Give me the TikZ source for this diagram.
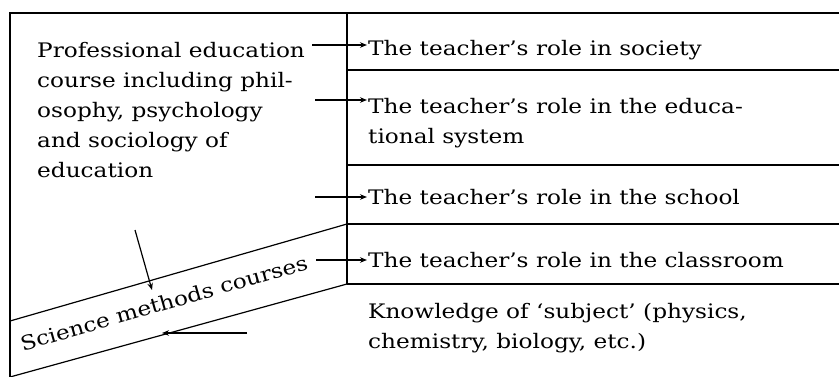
\documentclass[tikz,border=0pt]{standalone}
\usepackage{fontspec}
\setmainfont{DejaVu Serif}[FakeStretch=1.16]
\usetikzlibrary{arrows.meta}
\begin{document}
\begin{tikzpicture}[x=1pt,y=1pt,yscale=-1,
        rule/.style={line width=1.2pt},
        conn/.style={line width=1.2pt,-{Stealth[length=7pt,width=5.5pt]}},
        txt/.style={inner sep=0pt,align=left,font=\fontsize{20}{30}\selectfont}]
        \useasboundingbox (0,0) rectangle (839,377);
        %Straight Lines
        \draw[rule] (839,13) -- (10,13) -- (10,377);
        \draw[rule] (347,13) -- (347,284);
        \foreach \y in {70,165,224,284} \draw[rule] (347,\y) -- (839,\y);
        %Slanted band
        \draw[rule] (10,321) -- (347,224);
        \draw[rule] (10,377) -- (347,284);

        % Text Node
        \node[txt,anchor=north west] (prof) at (37,42) {Professional education\\course including phil-\\osophy, psychology\\and sociology of\\education};
        % Text Node
        \node[txt,anchor=base west] (soc) at (368,56) {The teacher's role in society};
        % Text Node
        \node[txt,anchor=north west] (edu) at (368,98) {The teacher's role in the educa-\\tional system};
        % Text Node
        \node[txt,anchor=base west] (school) at (368,205) {The teacher's role in the school};
        % Text Node
        \node[txt,anchor=base west] (class) at (368,267) {The teacher's role in the classroom};
        % Text Node
        \node[txt,anchor=north west] (subj) at (368,303) {Knowledge of `subject' (physics,\\chemistry, biology, etc.)};
        % Text Node
        \node[txt,anchor=base,rotate=16] (meth) at (166,310) {Science methods courses};

        %Arrows
        \coordinate (s1) at (312,45);
        \coordinate (s2) at (315,100);
        \coordinate (s3) at (315,197);
        \coordinate (s4) at (316,260);
        \draw[conn] (s1) -- ([xshift=-1pt]s1 -| soc.west);
        \draw[conn] (s2) -- ([xshift=-1pt]s2 -| edu.west);
        \draw[conn] (s3) -- ([xshift=-1pt]s3 -| school.west);
        \draw[conn] (s4) -- ([xshift=-1pt]s4 -| class.west);
        \coordinate (d0) at (135,230);
        \coordinate (d1) at (152,290);
        \draw[conn] (d0) -- (d1);
        \coordinate (l0) at (247,333);
        \coordinate (l1) at (162,333);
        \draw[conn] (l0) -- (l1);
\end{tikzpicture}
\end{document}
